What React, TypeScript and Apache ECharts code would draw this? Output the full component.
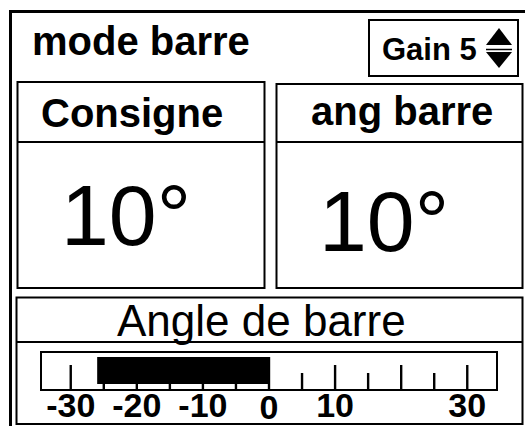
import React, { useEffect, useRef } from "react";
import * as echarts from "echarts";

// ---- data ----
const titleText = "mode barre";
const gainLabel = "Gain";
const gainValue = 5;
const consigneLabel = "Consigne";
const consigneValue = 10;
const angLabel = "ang barre";
const angValue = 10;
const gaugeTitle = "Angle de barre";
const tickValues = [-30, -25, -20, -15, -10, -5, 0, 5, 10, 15, 20, 25, 30];
const labelValues = [-30, -20, -10, 0, 10, 30];
const barStart = -26;
const barEnd = 0;
const axisMin = -34.5;
const axisMax = 34.5;

const FONT = "'Liberation Sans', Arial, Helvetica, sans-serif";

export default function App() {
  const ref = useRef<HTMLDivElement>(null);
  useEffect(() => {
    if (!ref.current) return;
    const chart = echarts.init(ref.current, undefined, { renderer: "svg" });
    const black = "#000";
    const panelStroke = { stroke: black, lineWidth: 2, fill: "none" };
    const option: any = {
      animation: false,
      backgroundColor: "#fff",
      grid: {
        left: 41,
        top: 352,
        width: 456,
        height: 38,
        show: true,
        borderColor: black,
        borderWidth: 2,
        backgroundColor: "transparent",
      },
      xAxis: {
        type: "value",
        min: axisMin,
        max: axisMax,
        show: false,
      },
      yAxis: {
        type: "value",
        min: 0,
        max: 38,
        show: false,
      },
      graphic: [
        // outer frame
        { type: "rect", shape: { x: 10.5, y: 11.5, width: 620, height: 620 }, style: { stroke: black, lineWidth: 3, fill: "none" } },
        { type: "text", x: 32, y: 41, style: { text: titleText, font: `bold 40px ${FONT}`, fill: black, verticalAlign: "middle", align: "left" } },
        // gain box
        { type: "rect", shape: { x: 369, y: 20, width: 149, height: 56 }, style: panelStroke },
        { type: "text", x: 382, y: 49, style: { text: `${gainLabel} ${gainValue}`, font: `bold 31px ${FONT}`, fill: black, verticalAlign: "middle", align: "left" } },
        { type: "polygon", shape: { points: [[486, 45], [499, 28], [512, 45]] }, style: { fill: black } },
        { type: "line", shape: { x1: 486, y1: 49.5, x2: 512, y2: 49.5 }, style: { stroke: black, lineWidth: 1.5 } },
        { type: "polygon", shape: { points: [[486, 52], [512, 52], [499, 68]] }, style: { fill: black } },
        // consigne panel
        { type: "rect", shape: { x: 17.5, y: 82, width: 247, height: 206 }, style: panelStroke },
        { type: "line", shape: { x1: 17.5, y1: 142, x2: 264.5, y2: 142 }, style: { stroke: black, lineWidth: 2 } },
        { type: "text", x: 41, y: 113, style: { text: consigneLabel, font: `bold 40px ${FONT}`, fill: black, verticalAlign: "middle", align: "left" } },
        { type: "text", x: 61, y: 215, style: { text: `${consigneValue}°`, font: `86px ${FONT}`, fill: black, verticalAlign: "middle", align: "left" } },
        // ang barre panel
        { type: "rect", shape: { x: 276.5, y: 84, width: 246, height: 204 }, style: panelStroke },
        { type: "line", shape: { x1: 276.5, y1: 142, x2: 522.5, y2: 142 }, style: { stroke: black, lineWidth: 2 } },
        { type: "text", x: 311, y: 111, style: { text: angLabel, font: `bold 40px ${FONT}`, fill: black, verticalAlign: "middle", align: "left" } },
        { type: "text", x: 319, y: 221, style: { text: `${angValue}°`, font: `86px ${FONT}`, fill: black, verticalAlign: "middle", align: "left" } },
        // gauge panel
        { type: "rect", shape: { x: 16.5, y: 297.5, width: 506, height: 126.5 }, style: panelStroke },
        { type: "line", shape: { x1: 16.5, y1: 342, x2: 522.5, y2: 342 }, style: { stroke: black, lineWidth: 2 } },
        { type: "text", x: 117, y: 320, style: { text: gaugeTitle, font: `44px ${FONT}`, fill: black, verticalAlign: "middle", align: "left" } },
      ],
      series: [
        {
          type: "custom",
          name: "bar",
          data: [[barStart, barEnd]],
          renderItem: (params: any, api: any) => {
            const p1 = api.coord([api.value(0), 33]);
            const p2 = api.coord([api.value(1), 6]);
            return {
              type: "rect",
              shape: { x: p1[0], y: p1[1], width: p2[0] - p1[0], height: p2[1] - p1[1] },
              style: { fill: black },
            };
          },
          silent: true,
        },
        {
          type: "custom",
          name: "ticks",
          data: tickValues.map((v) => [v]),
          renderItem: (params: any, api: any) => {
            const v = api.value(0);
            const len = v === 0 ? 33 : v % 10 === 0 ? 25 : 17;
            const a = api.coord([v, 0]);
            const b = api.coord([v, len]);
            return {
              type: "line",
              shape: { x1: a[0], y1: a[1], x2: b[0], y2: b[1] },
              style: { stroke: black, lineWidth: 2.4 },
            };
          },
          silent: true,
        },
        {
          type: "custom",
          name: "labels",
          data: labelValues.map((v) => [v]),
          renderItem: (params: any, api: any) => {
            const v = api.value(0);
            const a = api.coord([v, 0]);
            return {
              type: "text",
              x: a[0],
              y: a[1] + (v === 0 ? 16.5 : 15),
              style: {
                text: String(v),
                font: `bold 34px ${FONT}`,
                fill: black,
                align: "center",
                verticalAlign: "middle",
              },
            };
          },
          silent: true,
        },
      ],
    };
    chart.setOption(option);
    return () => chart.dispose();
  }, []);
  return (
    <div
      ref={ref}
      style={{ position: "absolute", left: 0, top: 0, width: 525, height: 426 }}
    />
  );
}
